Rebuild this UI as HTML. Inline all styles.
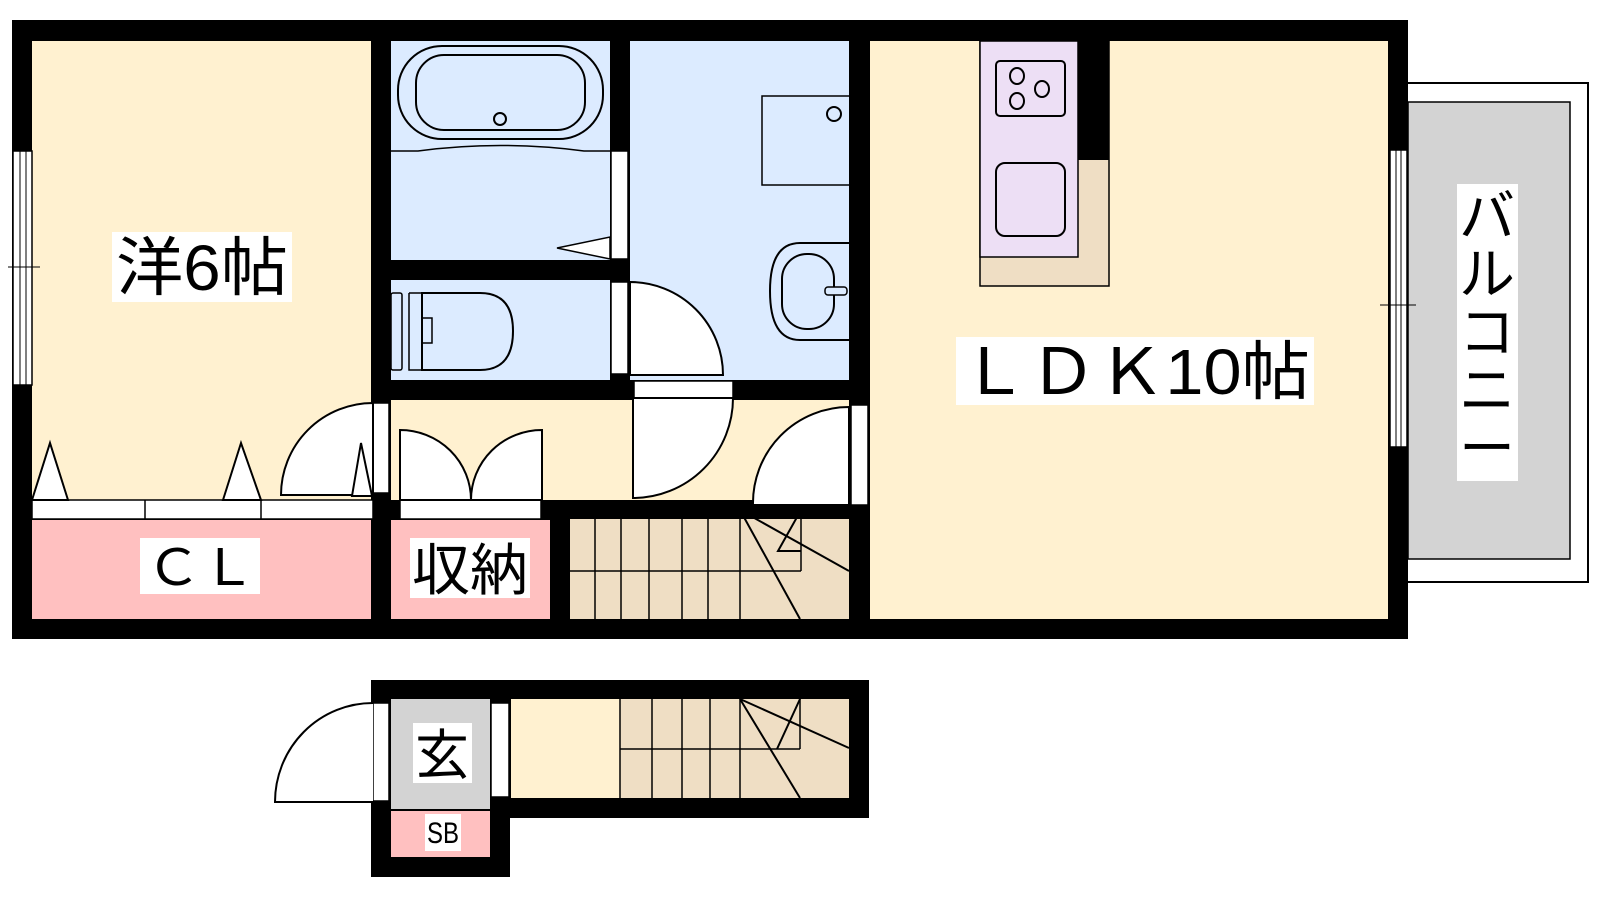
<!DOCTYPE html>
<html><head><meta charset="utf-8"><style>
html,body{margin:0;padding:0;background:#fff;width:1600px;height:900px;overflow:hidden}
svg{display:block}
text{font-family:"Liberation Sans","Noto Sans CJK JP",sans-serif;fill:#000}
</style></head><body>
<svg width="1600" height="900" viewBox="0 0 1600 900" xmlns="http://www.w3.org/2000/svg">
<!-- balcony -->
<rect x="1400" y="83" width="188" height="499" fill="#fff" stroke="#000" stroke-width="2"/>
<rect x="1408" y="102" width="162" height="457" fill="#d3d3d3" stroke="#000" stroke-width="1.5"/>
<!-- outer walls -->
<rect x="12" y="20" width="1396" height="619" fill="#000"/>
<!-- western room -->
<rect x="32" y="41" width="339" height="459" fill="#fff1d0"/>
<rect x="32" y="520" width="339" height="99" fill="#ffc0c0"/>
<rect x="32" y="500" width="341" height="19" fill="#fff" stroke="#000" stroke-width="1.5"/>
<line x1="145" y1="500" x2="145" y2="519" stroke="#000" stroke-width="1.5"/>
<line x1="261" y1="500" x2="261" y2="519" stroke="#000" stroke-width="1.5"/>
<g fill="#fff" stroke="#000" stroke-width="2">
<polygon points="32,500 50,443 68,500"/>
<polygon points="223,500 241,443 261,500"/>
</g>
<!-- window left -->
<rect x="13" y="151" width="19" height="234" fill="#fff" stroke="#000" stroke-width="1.5"/>
<line x1="20" y1="151" x2="20" y2="385" stroke="#000" stroke-width="1"/>
<line x1="26" y1="151" x2="26" y2="385" stroke="#000" stroke-width="1"/>
<line x1="8" y1="267" x2="40" y2="267" stroke="#000" stroke-width="1"/>
<!-- door western room -->
<rect x="373" y="403" width="16" height="90" fill="#fff" stroke="#000" stroke-width="1.5"/>
<path d="M373,403 A92,92 0 0 0 281,495 L373,495 Z" fill="#fff" stroke="#000" stroke-width="2"/>
<polygon points="352,496 361,443 372,496" fill="#fff" stroke="#000" stroke-width="2"/>
<!-- bath -->
<rect x="391" y="41" width="219" height="219" fill="#dcebff"/>
<rect x="398" y="46" width="205" height="93" rx="44" fill="none" stroke="#000" stroke-width="2"/>
<rect x="416" y="55" width="169" height="75" rx="28" fill="none" stroke="#000" stroke-width="2"/>
<circle cx="500" cy="119" r="6" fill="none" stroke="#000" stroke-width="2"/>
<path d="M391,151 L418,151 Q500,140 584,151 L610,151" fill="none" stroke="#000" stroke-width="1.5"/>
<polygon points="557,248 610,237 610,259" fill="#fff" stroke="#000" stroke-width="1.5"/>
<rect x="611" y="151" width="17" height="108" fill="#fff" stroke="#000" stroke-width="1.5"/>
<!-- toilet -->
<rect x="391" y="280" width="219" height="100" fill="#dcebff"/>
<rect x="391" y="293" width="11" height="77" rx="2" fill="none" stroke="#000" stroke-width="1.5"/>
<path d="M422,293 L480,293 Q513,293 513,331 Q513,370 480,370 L422,370 Z" fill="none" stroke="#000" stroke-width="2"/>
<path d="M409,293 L409,370 L422,370 M409,293 L422,293 L422,318 L432,318 L432,343 L422,343 L422,370" fill="none" stroke="#000" stroke-width="1.5"/>
<rect x="611" y="282" width="17" height="92" fill="#fff" stroke="#000" stroke-width="1.5"/>
<!-- washroom -->
<rect x="630" y="41" width="219" height="339" fill="#dcebff"/>
<rect x="762" y="96" width="88" height="89" fill="none" stroke="#000" stroke-width="1.5"/>
<circle cx="834" cy="114" r="7" fill="none" stroke="#000" stroke-width="2"/>
<path d="M849,243 L800,243 Q770,243 770,291 Q770,340 800,340 L849,340" fill="none" stroke="#000" stroke-width="2"/>
<rect x="782" y="254" width="52" height="75" rx="25" fill="none" stroke="#000" stroke-width="2"/>
<rect x="825" y="287" width="22" height="8" rx="3" fill="#dcebff" stroke="#000" stroke-width="1.5"/>
<path d="M630,282 A93,93 0 0 1 723,375 L630,375 Z" fill="#fff" stroke="#000" stroke-width="2"/>
<!-- hallway -->
<rect x="391" y="400" width="458" height="100" fill="#fff1d0"/>
<rect x="634" y="381" width="99" height="17" fill="#fff" stroke="#000" stroke-width="1.5"/>
<path d="M733,398 A100,100 0 0 1 633,498 L633,398 Z" fill="#fff" stroke="#000" stroke-width="2"/>
<rect x="851" y="405" width="17" height="100" fill="#fff" stroke="#000" stroke-width="1.5"/>
<path d="M849,407 A96,96 0 0 0 753,505 L849,505 Z" fill="#fff" stroke="#000" stroke-width="2"/>
<!-- storage -->
<rect x="391" y="520" width="159" height="99" fill="#ffc0c0"/>
<rect x="400" y="500" width="141" height="19" fill="#fff" stroke="#000" stroke-width="1.5"/>
<path d="M400,500 L400,430 A71,70 0 0 1 471,500 Z" fill="#fff" stroke="#000" stroke-width="2"/>
<path d="M542,500 L542,430 A71,70 0 0 0 471,500 Z" fill="#fff" stroke="#000" stroke-width="2"/>
<!-- stairs top -->
<rect x="570" y="519" width="279" height="100" fill="#efdec4"/>
<g stroke="#000" stroke-width="1.5" fill="none">
<line x1="570" y1="571" x2="801" y2="571"/>
<line x1="595" y1="519" x2="595" y2="619"/><line x1="621" y1="519" x2="621" y2="619"/>
<line x1="649" y1="519" x2="649" y2="619"/><line x1="682" y1="519" x2="682" y2="619"/>
<line x1="708" y1="519" x2="708" y2="619"/><line x1="740" y1="519" x2="740" y2="619"/>
<line x1="801" y1="510" x2="801" y2="571"/>
<line x1="740" y1="510" x2="849" y2="571" stroke-width="2"/>
<line x1="740" y1="510" x2="800" y2="619" stroke-width="2"/>
<polyline points="801,510 778,551 801,551" stroke-width="2"/>
</g>
<!-- LDK -->
<rect x="870" y="41" width="518" height="578" fill="#fff1d0"/>
<rect x="980" y="41" width="129" height="245" fill="#efdec4" stroke="#000" stroke-width="1.5"/>
<rect x="980" y="41" width="98" height="216" fill="#eddff5" stroke="#000" stroke-width="1.5"/>
<rect x="1078" y="20" width="31" height="140" fill="#000"/>
<rect x="996" y="61" width="69" height="55" rx="4" fill="none" stroke="#000" stroke-width="2"/>
<g fill="none" stroke="#000" stroke-width="2">
<ellipse cx="1017" cy="76" rx="7" ry="8"/><ellipse cx="1042" cy="89" rx="7" ry="8"/><ellipse cx="1017" cy="101" rx="7" ry="8"/>
</g>
<rect x="996" y="163" width="69" height="73" rx="9" fill="none" stroke="#000" stroke-width="2"/>
<rect x="1390" y="150" width="17" height="297" fill="#fff" stroke="#000" stroke-width="1.5"/>
<line x1="1396" y1="150" x2="1396" y2="447" stroke="#000" stroke-width="1"/>
<line x1="1401" y1="150" x2="1401" y2="447" stroke="#000" stroke-width="1"/>
<line x1="1380" y1="305" x2="1416" y2="305" stroke="#000" stroke-width="1"/>
<!-- lower part -->
<rect x="371" y="680" width="498" height="138" fill="#000"/>
<rect x="371" y="680" width="139" height="197" fill="#000"/>
<rect x="391" y="699" width="99" height="110" fill="#d3d3d3"/>
<rect x="391" y="811" width="99" height="46" fill="#ffc0c0"/>
<rect x="511" y="699" width="109" height="99" fill="#fff1d0"/>
<rect x="620" y="699" width="229" height="99" fill="#efdec4"/>
<g stroke="#000" stroke-width="1.5" fill="none">
<line x1="620" y1="749" x2="800" y2="749"/>
<line x1="620" y1="699" x2="620" y2="798"/>
<line x1="652" y1="699" x2="652" y2="798"/><line x1="682" y1="699" x2="682" y2="798"/>
<line x1="710" y1="699" x2="710" y2="798"/><line x1="740" y1="699" x2="740" y2="798"/>
<line x1="800" y1="699" x2="800" y2="749"/>
<line x1="740" y1="699" x2="849" y2="748" stroke-width="2"/>
<line x1="740" y1="699" x2="800" y2="798" stroke-width="2"/>
<line x1="800" y1="699" x2="777" y2="749" stroke-width="2"/>
</g>
<rect x="491" y="703" width="18" height="94" fill="#fff" stroke="#000" stroke-width="1.5"/>
<rect x="373" y="703" width="16" height="98" fill="#fff" stroke="#000" stroke-width="1.5"/>
<path d="M373,703 A98,99 0 0 0 275,802 L373,802" fill="#fff" stroke="#000" stroke-width="2"/>
<!-- labels -->
<rect x="112" y="232" width="180" height="70" fill="#fff"/>
<text x="116" y="290" font-size="64" textLength="172" lengthAdjust="spacingAndGlyphs">洋6帖</text>
<rect x="140" y="538" width="120" height="56" fill="#fff"/>
<text x="146" y="585" font-size="50" textLength="110" lengthAdjust="spacingAndGlyphs">ＣＬ</text>
<rect x="410" y="538" width="120" height="60" fill="#fff"/>
<text x="412" y="590" font-size="56" textLength="116" lengthAdjust="spacingAndGlyphs">収納</text>
<rect x="956" y="337" width="358" height="68" fill="#fff"/>
<text x="960" y="394" font-size="64" textLength="350" lengthAdjust="spacingAndGlyphs">ＬＤＫ10帖</text>
<rect x="1457" y="184" width="61" height="297" fill="#fff"/>
<g font-size="56" text-anchor="middle">
<text x="1487" y="236">バ</text><text x="1487" y="294">ル</text><text x="1487" y="352">コ</text><text x="1487" y="410">ニ</text><text x="1487" y="468">ー</text>
</g>
<rect x="413" y="723" width="59" height="60" fill="#fff"/>
<text x="442" y="774" font-size="54" text-anchor="middle">玄</text>
<rect x="425" y="814" width="36" height="37" fill="#fff"/>
<text x="443" y="843" font-size="30" text-anchor="middle" textLength="32" lengthAdjust="spacingAndGlyphs">SB</text>
</svg>
</body></html>
